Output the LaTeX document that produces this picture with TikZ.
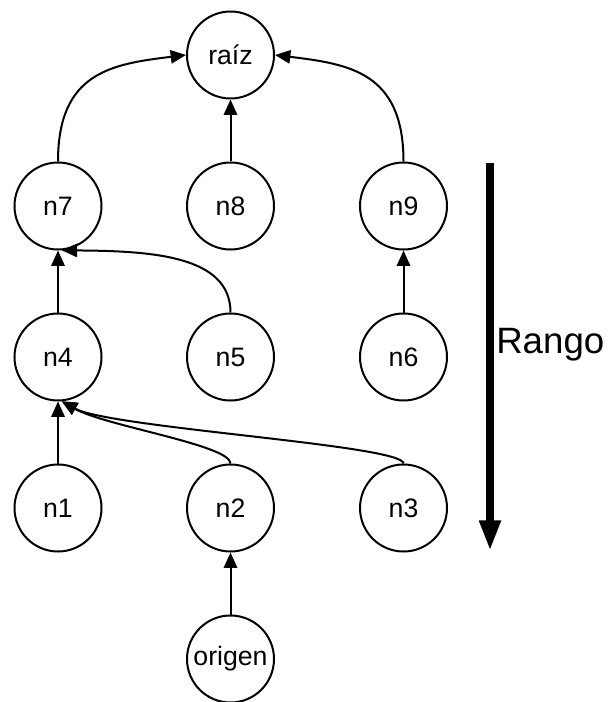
\documentclass[tikz,border=0pt]{standalone}
\usepackage{fontspec}
\setmainfont{Liberation Sans}
\usetikzlibrary{arrows.meta}
\begin{document}
\begin{tikzpicture}[x=0.75pt,y=-0.75pt,
  vert/.style={circle,draw,line width=1.5pt,minimum size=65.25pt,inner sep=0pt,
    font=\fontsize{20}{22}\selectfont},
  edge/.style={line width=1.5pt,-{Triangle[length=11.5pt,width=10pt]}}]
\useasboundingbox (0,0) rectangle (614,702);

% vertices
\node[vert] (raiz)   at (230.5,55)  {raíz};
\node[vert] (n7)     at (58,206)    {n7};
\node[vert] (n8)     at (230.5,206) {n8};
\node[vert] (n9)     at (403.5,206) {n9};
\node[vert] (n4)     at (58,357)    {n4};
\node[vert] (n5)     at (230.5,357) {n5};
\node[vert] (n6)     at (403.5,357) {n6};
\node[vert] (n1)     at (58,508)    {n1};
\node[vert] (n2)     at (230.5,508) {n2};
\node[vert] (n3)     at (403.5,508) {n3};
\node[vert] (origen) at (230.5,659) {origen};

% edges towards the root
\draw[edge] (n7.north) .. controls (58,72) and (112,64) .. (raiz.west);
\draw[edge] (n8) -- (raiz);
\draw[edge] (n9.north) .. controls (403.5,72) and (349,64) .. (raiz.east);
\draw[edge] (n4) -- (n7);
\draw[edge] (n5.north) .. controls (230.5,255) and (150,251) .. (n7.-85);
\draw[edge] (n6) -- (n9);
\draw[edge] (n1) -- (n4);
\draw[edge] (n2.north) .. controls (230.5,445) and (105,426) .. (n4.-85);
\draw[edge] (n3.north) .. controls (403.5,445) and (110,428) .. (n4.-85);
\draw[edge] (origen) -- (n2);

% rank arrow
\coordinate (rtop) at (490,163);
\coordinate (rbot) at (490,551);
\draw[line width=6pt,-{Triangle[length=23pt,width=15pt]}] (rtop) -- (rbot);
\node[anchor=base west,inner sep=0pt,font=\fontsize{27.5}{30}\selectfont] (rango) at (496,353) {Rango};
\end{tikzpicture}
\end{document}
